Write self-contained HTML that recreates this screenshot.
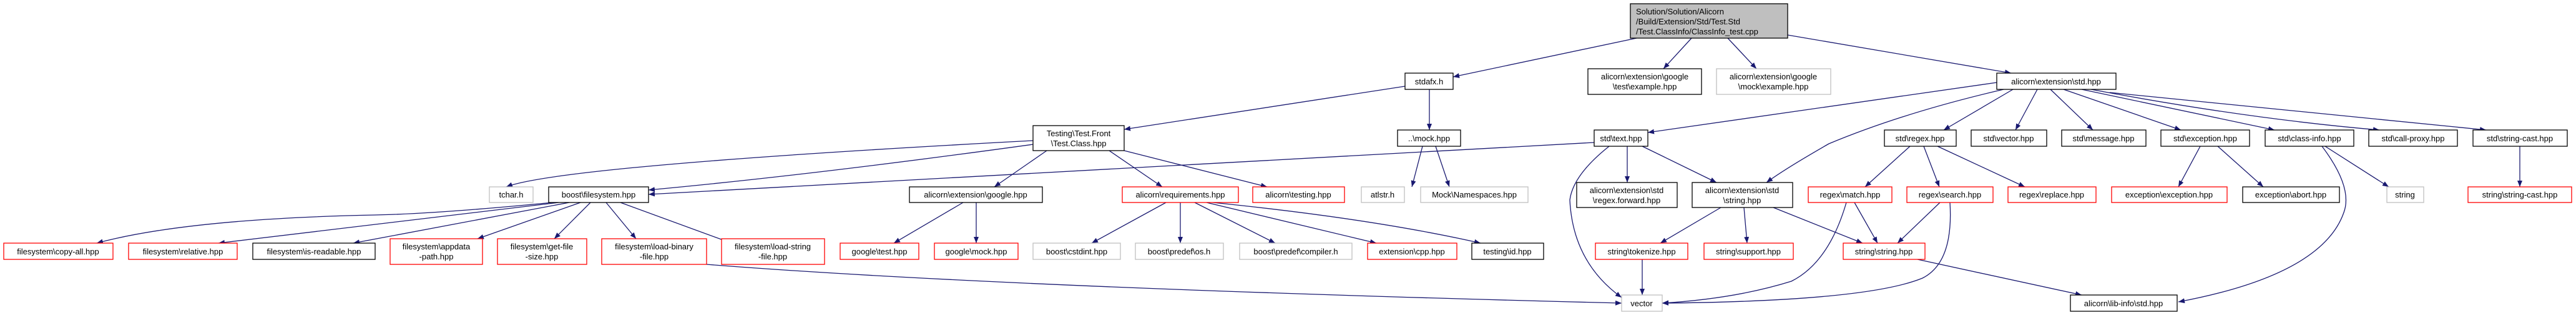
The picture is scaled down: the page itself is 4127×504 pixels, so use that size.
<!DOCTYPE html>
<html><head><meta charset="utf-8"><style>
html,body{margin:0;padding:0;background:#fff;width:4127px;height:504px;overflow:hidden}
svg{display:block}
text{font-family:"Liberation Sans",sans-serif;font-size:13px;fill:#000}
.b{fill:#fff;stroke:#000;stroke-width:1.3}
.r{fill:#fff;stroke:#f00;stroke-width:1.3}
.g{fill:#fff;stroke:#bfbfbf;stroke-width:1.3}
.e{fill:none;stroke:#191970;stroke-width:1.3;marker-end:url(#a)}
</style></head><body>
<svg width="4127" height="504" viewBox="0 0 4127 504" xmlns="http://www.w3.org/2000/svg">
<defs><marker id="a" viewBox="0 0 10 8" refX="10" refY="4" markerWidth="10" markerHeight="8" markerUnits="userSpaceOnUse" orient="auto"><path d="M0,0 L10,4 L0,8 z" fill="#191970"/></marker></defs>

<!-- edges -->
<path class="e" d="M2622,61 L2328,123"/>
<path class="e" d="M2710,61 L2665,110"/>
<path class="e" d="M2768,61 L2814,110"/>
<path class="e" d="M2864,56 L3222,117"/>
<path class="e" d="M2251,138 L1801,207"/>
<path class="e" d="M2290,143 L2290,208"/>
<path class="e" d="M1655,225 Q900,265 811,299"/>
<path class="e" d="M1655,231 Q1300,280 1039,304"/>
<path class="e" d="M1677,241 L1593,299"/>
<path class="e" d="M1777,241 L1862,299"/>
<path class="e" d="M1801,241 L2030,299"/>
<path class="e" d="M2279,234 L2262,299"/>
<path class="e" d="M2300,234 L2322,299"/>
<path class="e" d="M2554,228 L1039,311"/>
<path class="e" d="M2578,234 Q2520,280 2515,320 Q2520,420 2598,476"/>
<path class="e" d="M2607,234 L2607,292"/>
<path class="e" d="M2631,234 L2750,292"/>
<path class="e" d="M3199,132 L2640,212"/>
<path class="e" d="M3210,143 Q3050,180 2930,230 Q2860,270 2830,292"/>
<path class="e" d="M3225,143 L3114,208"/>
<path class="e" d="M3264,143 L3229,208"/>
<path class="e" d="M3285,143 L3353,208"/>
<path class="e" d="M3306,143 L3494,208"/>
<path class="e" d="M3335,143 L3644,208"/>
<path class="e" d="M3350,143 Q3600,190 3812,208"/>
<path class="e" d="M3380,148 Q3700,180 3983,208"/>
<path class="e" d="M3060,234 L2988,299"/>
<path class="e" d="M3082,234 L3107,299"/>
<path class="e" d="M3104,234 L3244,299"/>
<path class="e" d="M3525,234 L3490,299"/>
<path class="e" d="M3553,234 L3626,299"/>
<path class="e" d="M3725,234 L3827,299"/>
<path class="e" d="M3720,234 Q3770,300 3755,340 Q3720,440 3490,483"/>
<path class="e" d="M4037,234 L4037,299"/>
<path class="e" d="M885,324 Q700,342 600,344 Q300,350 155,389"/>
<path class="e" d="M895,324 Q600,360 350,389"/>
<path class="e" d="M912,324 L566,389"/>
<path class="e" d="M930,324 L765,382"/>
<path class="e" d="M946,324 L888,382"/>
<path class="e" d="M971,324 L1019,382"/>
<path class="e" d="M994,324 L1172,389"/>
<path class="e" d="M1132,423 Q1600,460 2598,485"/>
<path class="e" d="M1543,324 L1432,389"/>
<path class="e" d="M1564,324 L1564,389"/>
<path class="e" d="M1868,324 L1749,389"/>
<path class="e" d="M1891,324 L1891,389"/>
<path class="e" d="M1914,324 L2043,389"/>
<path class="e" d="M1933,324 L2205,389"/>
<path class="e" d="M1943,324 Q2200,350 2372,389"/>
<path class="e" d="M2757,332 L2660,389"/>
<path class="e" d="M2794,332 L2799,389"/>
<path class="e" d="M2841,332 L2984,389"/>
<path class="e" d="M2631,415 L2631,472"/>
<path class="e" d="M2958,324 Q2930,420 2870,450 Q2780,478 2663,485"/>
<path class="e" d="M2971,324 L3008,389"/>
<path class="e" d="M3108,324 L3040,389"/>
<path class="e" d="M3124,324 Q3130,420 3080,445 Q2990,482 2663,485"/>
<path class="e" d="M3072,415 L3335,472"/>

<!-- nodes -->
<rect x="2612" y="6" width="252" height="55" style="fill:#bfbfbf;stroke:#000;stroke-width:1.3"/>
<text x="2621" y="23">Solution/Solution/Alicorn</text>
<text x="2621" y="39">/Build/Extension/Std/Test.Std</text>
<text x="2621" y="55">/Test.ClassInfo/ClassInfo_test.cpp</text>

<g text-anchor="middle">
<rect class="b" x="2251" y="117" width="77" height="26"/><text x="2289.5" y="135">stdafx.h</text>
<rect class="b" x="2544" y="110" width="182" height="41"/><text x="2635" y="127">alicorn\extension\google</text><text x="2635" y="143">\test\example.hpp</text>
<rect class="g" x="2750" y="110" width="183" height="41"/><text x="2841" y="127">alicorn\extension\google</text><text x="2841" y="143">\mock\example.hpp</text>
<rect class="b" x="3199" y="117" width="191" height="26"/><text x="3294" y="135">alicorn\extension\std.hpp</text>

<rect class="b" x="1655" y="201" width="146" height="40"/><text x="1728" y="218">Testing\Test.Front</text><text x="1728" y="234">\Test.Class.hpp</text>
<rect class="b" x="2239" y="208" width="101" height="26"/><text x="2289.5" y="226">..\mock.hpp</text>
<rect class="b" x="2554" y="208" width="86" height="26"/><text x="2597" y="226">std\text.hpp</text>
<rect class="b" x="3019" y="208" width="115" height="26"/><text x="3076" y="226">std\regex.hpp</text>
<rect class="b" x="3158" y="208" width="121" height="26"/><text x="3218" y="226">std\vector.hpp</text>
<rect class="b" x="3303" y="208" width="135" height="26"/><text x="3370" y="226">std\message.hpp</text>
<rect class="b" x="3462" y="208" width="142" height="26"/><text x="3533" y="226">std\exception.hpp</text>
<rect class="b" x="3629" y="208" width="142" height="26"/><text x="3700" y="226">std\class-info.hpp</text>
<rect class="b" x="3795" y="208" width="142" height="26"/><text x="3866" y="226">std\call-proxy.hpp</text>
<rect class="b" x="3962" y="208" width="151" height="26"/><text x="4037" y="226">std\string-cast.hpp</text>

<rect class="g" x="784" y="299" width="70" height="25"/><text x="819" y="316">tchar.h</text>
<rect class="b" x="879" y="299" width="160" height="25"/><text x="959" y="316">boost\filesystem.hpp</text>
<rect class="b" x="1457" y="299" width="213" height="25"/><text x="1563" y="316">alicorn\extension\google.hpp</text>
<rect class="r" x="1798" y="299" width="186" height="25"/><text x="1891" y="316">alicorn\requirements.hpp</text>
<rect class="r" x="2007" y="299" width="147" height="25"/><text x="2080" y="316">alicorn\testing.hpp</text>
<rect class="g" x="2181" y="299" width="69" height="25"/><text x="2215" y="316">atlstr.h</text>
<rect class="g" x="2276" y="299" width="172" height="25"/><text x="2362" y="316">Mock\Namespaces.hpp</text>
<rect class="b" x="2526" y="292" width="161" height="40"/><text x="2606" y="309">alicorn\extension\std</text><text x="2606" y="325">\regex.forward.hpp</text>
<rect class="b" x="2711" y="292" width="161" height="40"/><text x="2791" y="309">alicorn\extension\std</text><text x="2791" y="325">\string.hpp</text>
<rect class="r" x="2897" y="299" width="134" height="25"/><text x="2964" y="316">regex\match.hpp</text>
<rect class="r" x="3055" y="299" width="138" height="25"/><text x="3124" y="316">regex\search.hpp</text>
<rect class="r" x="3217" y="299" width="141" height="25"/><text x="3287" y="316">regex\replace.hpp</text>
<rect class="r" x="3383" y="299" width="185" height="25"/><text x="3475" y="316">exception\exception.hpp</text>
<rect class="b" x="3593" y="299" width="155" height="25"/><text x="3670" y="316">exception\abort.hpp</text>
<rect class="g" x="3824" y="299" width="59" height="25"/><text x="3853" y="316">string</text>
<rect class="r" x="3954" y="299" width="166" height="25"/><text x="4037" y="316">string\string-cast.hpp</text>

<rect class="r" x="6" y="389" width="175" height="26"/><text x="93" y="407">filesystem\copy-all.hpp</text>
<rect class="r" x="206" y="389" width="174" height="26"/><text x="293" y="407">filesystem\relative.hpp</text>
<rect class="b" x="405" y="389" width="196" height="26"/><text x="503" y="407">filesystem\is-readable.hpp</text>
<rect class="r" x="625" y="382" width="148" height="41"/><text x="699" y="399">filesystem\appdata</text><text x="699" y="415">-path.hpp</text>
<rect class="r" x="797" y="382" width="143" height="41"/><text x="868" y="399">filesystem\get-file</text><text x="868" y="415">-size.hpp</text>
<rect class="r" x="964" y="382" width="168" height="41"/><text x="1048" y="399">filesystem\load-binary</text><text x="1048" y="415">-file.hpp</text>
<rect class="r" x="1156" y="382" width="165" height="41"/><text x="1238" y="399">filesystem\load-string</text><text x="1238" y="415">-file.hpp</text>
<rect class="r" x="1346" y="389" width="126" height="26"/><text x="1409" y="407">google\test.hpp</text>
<rect class="r" x="1497" y="389" width="134" height="26"/><text x="1564" y="407">google\mock.hpp</text>
<rect class="g" x="1655" y="389" width="140" height="26"/><text x="1725" y="407">boost\cstdint.hpp</text>
<rect class="g" x="1819" y="389" width="141" height="26"/><text x="1889" y="407">boost\predef\os.h</text>
<rect class="g" x="1986" y="389" width="180" height="26"/><text x="2076" y="407">boost\predef\compiler.h</text>
<rect class="r" x="2191" y="389" width="143" height="26"/><text x="2262" y="407">extension\cpp.hpp</text>
<rect class="b" x="2358" y="389" width="115" height="26"/><text x="2415" y="407">testing\id.hpp</text>
<rect class="r" x="2556" y="389" width="148" height="26"/><text x="2630" y="407">string\tokenize.hpp</text>
<rect class="r" x="2730" y="389" width="143" height="26"/><text x="2801" y="407">string\support.hpp</text>
<rect class="r" x="2953" y="389" width="131" height="26"/><text x="3018" y="407">string\string.hpp</text>

<rect class="g" x="2598" y="472" width="65" height="26"/><text x="2630" y="490">vector</text>
<rect class="b" x="3317" y="472" width="171" height="26"/><text x="3402" y="490">alicorn\lib-info\std.hpp</text>
</g>
</svg>
</body></html>
